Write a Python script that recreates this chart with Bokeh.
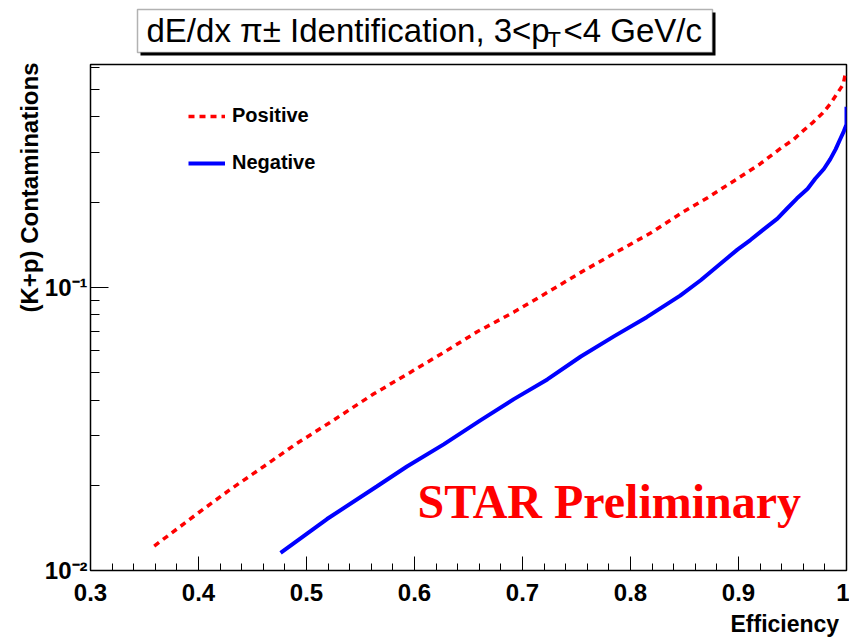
import numpy as np
from bokeh.plotting import figure
from bokeh.layouts import column
from bokeh.models import (FixedTicker, Legend, LegendItem, Label, BoxAnnotation,
                          Range1d, BasicTickFormatter)
from bokeh.embed import file_html
from bokeh.resources import INLINE

# ---- data ----
pos_eff = [0.359, 0.371, 0.400, 0.430, 0.461, 0.491, 0.522, 0.562, 0.596, 0.627,
           0.658, 0.692, 0.723, 0.754, 0.785, 0.819, 0.849, 0.871, 0.901, 0.920,
           0.940, 0.951, 0.960, 0.969, 0.978, 0.985, 0.991, 0.997, 0.999]
pos_cont = [0.0122, 0.0132, 0.0160, 0.0194, 0.0234, 0.0281, 0.0334, 0.0420, 0.0501, 0.0589,
            0.0697, 0.0818, 0.0960, 0.113, 0.132, 0.156, 0.185, 0.207, 0.245, 0.273,
            0.312, 0.333, 0.358, 0.383, 0.413, 0.445, 0.482, 0.522, 0.571]

neg_eff = [0.476, 0.519, 0.565, 0.593, 0.627, 0.661, 0.692, 0.723, 0.754, 0.785,
           0.815, 0.846, 0.865, 0.883, 0.899, 0.911, 0.923, 0.936, 0.945, 0.954,
           0.964, 0.971, 0.979, 0.985, 0.990, 0.994, 0.9975, 1.0, 1.0]
neg_cont = [0.01155, 0.0152, 0.0198, 0.0233, 0.0279, 0.0339, 0.0403, 0.0473, 0.0570, 0.0673,
            0.0785, 0.0935, 0.106, 0.121, 0.136, 0.147, 0.160, 0.175, 0.190, 0.206,
            0.223, 0.242, 0.262, 0.284, 0.308, 0.333, 0.356, 0.376, 0.435]

x_ticks = [0.3, 0.4, 0.5, 0.6, 0.7, 0.8, 0.9, 1.0]
x_tick_labels = ["0.3", "0.4", "0.5", "0.6", "0.7", "0.8", "0.9", "1"]
y_ticks = [0.01, 0.1]
y_tick_labels = ["10\u207b\u00b2", "10\u207b\u00b9"]

series_labels = ["Positive", "Negative"]
title_main = "dE/dx  \u03c0\u00b1 Identification, 3<p"
title_sub = "T"
title_tail = "<4 GeV/c"
x_label = "Efficiency"
y_label = "(K+p) Contaminations"
watermark = "STAR Preliminary"

SANS = "Liberation Sans"
NBSP = "\u00a0"
BORDER_L, BORDER_R = 90, 3

# ---------------- title strip (x in page pixels) ----------------
ft = figure(width=849, height=62, x_range=Range1d(BORDER_L, 849 - BORDER_R),
            y_range=Range1d(62, 0),
            output_backend="svg", toolbar_location=None,
            min_border_left=BORDER_L, min_border_right=BORDER_R,
            min_border_top=0, min_border_bottom=0,
            x_axis_location=None, y_axis_location=None)
ft.outline_line_color = None
ft.grid.visible = False
ft.background_fill_color = "white"
ft.border_fill_color = "white"
ft.add_layout(BoxAnnotation(left=140, right=715, top=12, bottom=55,
                            fill_color="black", fill_alpha=1, line_color=None))
ft.add_layout(BoxAnnotation(left=137, right=712, top=9, bottom=52,
                            fill_color="white", fill_alpha=1,
                            line_color="black", line_width=1.5))
ft.add_layout(Label(x=146, y=30, text=title_main,
                    text_font=SANS, text_font_size="33px",
                    text_baseline="middle", text_align="left", text_color="black"))
ft.add_layout(Label(x=547, y=39, text=title_sub,
                    text_font=SANS, text_font_size="22px",
                    text_baseline="middle", text_align="left", text_color="black"))
ft.add_layout(Label(x=563, y=30, text=title_tail,
                    text_font=SANS, text_font_size="33px",
                    text_baseline="middle", text_align="left", text_color="black"))

# ---------------- main plot ----------------
p = figure(width=849, height=577, y_axis_type="log",
           x_range=Range1d(0.3, 1.0), y_range=Range1d(0.01, 0.613),
           output_backend="svg", toolbar_location=None,
           min_border_left=BORDER_L, min_border_right=BORDER_R,
           min_border_top=2, min_border_bottom=62)

p.background_fill_color = "white"
p.border_fill_color = "white"
p.outline_line_color = "black"
p.outline_line_width = 1.5
p.grid.visible = False

# x axis
x_minor = [round(0.3 + 0.02 * i, 2) for i in range(36)]
p.xaxis.ticker = FixedTicker(ticks=x_ticks, minor_ticks=x_minor)
p.xaxis.formatter = BasicTickFormatter()
p.xaxis.major_label_overrides = {t: l for t, l in zip(x_ticks, x_tick_labels)}
p.xaxis.major_tick_in = 14
p.xaxis.major_tick_out = 0
p.xaxis.minor_tick_in = 7
p.xaxis.minor_tick_out = 0
p.xaxis.major_label_standoff = 13
# label pushed to the right end of the axis (padding with no-break spaces)
p.xaxis.axis_label = NBSP * 99 + x_label
p.xaxis.axis_label_standoff = 7
p.xaxis.axis_label_text_font_size = "23px"

# y axis
y_minor = [k * 0.01 for k in range(2, 10)] + [k * 0.1 for k in range(2, 7)]
p.yaxis.ticker = FixedTicker(ticks=y_ticks, minor_ticks=y_minor)
p.yaxis.formatter = BasicTickFormatter()
p.yaxis.major_label_overrides = {t: l for t, l in zip(y_ticks, y_tick_labels)}
p.yaxis.major_tick_in = 18
p.yaxis.major_tick_out = 0
p.yaxis.minor_tick_in = 9
p.yaxis.minor_tick_out = 0
p.yaxis.major_label_standoff = 3
# label pushed to the top end of the axis
p.yaxis.axis_label = NBSP * 39 + y_label
p.yaxis.axis_label_standoff = -1
p.yaxis.axis_label_text_font_size = "24px"

for ax in (p.xaxis, p.yaxis):
    ax.axis_line_color = "black"
    ax.major_tick_line_color = "black"
    ax.minor_tick_line_color = "black"
    ax.major_label_text_font = SANS
    ax.major_label_text_font_style = "bold"
    ax.major_label_text_color = "black"
    ax.axis_label_text_font = SANS
    ax.axis_label_text_font_style = "bold"
    ax.axis_label_text_color = "black"
p.xaxis.major_label_text_font_size = "24px"
p.yaxis.major_label_text_font_size = "24px"

# curves
r_pos = p.line(pos_eff, pos_cont, line_color="#ff0000", line_width=3.5, line_dash="6 5")
r_neg = p.line(neg_eff, neg_cont, line_color="#0000ff", line_width=4)

legend = Legend(items=[LegendItem(label=series_labels[0], renderers=[r_pos]),
                       LegendItem(label=series_labels[1], renderers=[r_neg])],
                location=(98, 396), padding=0, margin=0, spacing=24,
                glyph_width=37, glyph_height=20, label_height=20, label_standoff=7,
                border_line_alpha=0, background_fill_alpha=0,
                label_text_font=SANS, label_text_font_style="bold",
                label_text_font_size="20px", label_text_color="black")
p.add_layout(legend)

# watermark
p.add_layout(Label(x=327, y=69, x_units="screen", y_units="screen", text=watermark,
                   text_font="Liberation Serif", text_font_style="bold",
                   text_font_size="48px", text_baseline="alphabetic",
                   text_align="left", text_color="#ff0000"))

layout = column(ft, p, spacing=0)
open("out.html", "w").write(file_html(layout, INLINE))
